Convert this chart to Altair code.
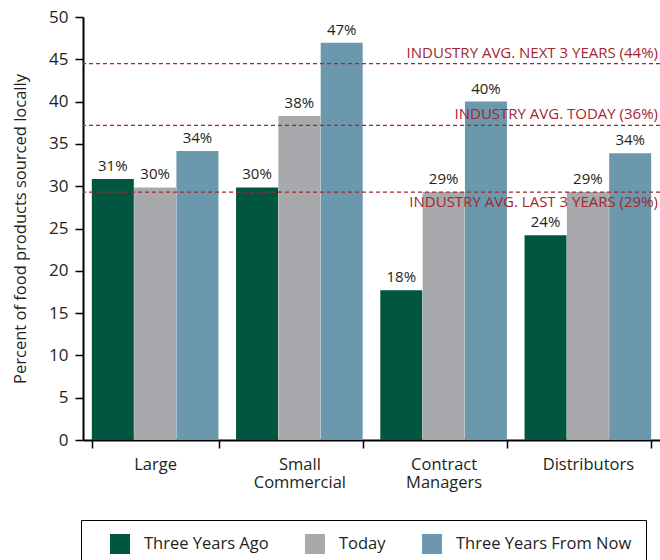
import altair as alt
import pandas as pd

categories = ["Large", "Small Commercial", "Contract Managers", "Distributors"]
series = ["Three Years Ago", "Today", "Three Years From Now"]
colors = ["#00563F", "#A7A9AC", "#6C98AD"]

three_years_ago = [30.85, 29.85, 17.7, 24.2]
today = [29.85, 38.3, 29.3, 29.3]
three_years_from_now = [34.15, 46.95, 40.0, 33.9]

label_ago = ["31%", "30%", "18%", "24%"]
label_today = ["30%", "38%", "29%", "29%"]
label_future = ["34%", "47%", "40%", "34%"]

ref_values = [44.5, 37.2, 29.3]
ref_labels = [
    "INDUSTRY AVG. NEXT 3 YEARS (44%)",
    "INDUSTRY AVG. TODAY (36%)",
    "INDUSTRY AVG. LAST 3 YEARS (29%)",
]

rows = []
for vals, labs, s in [
    (three_years_ago, label_ago, series[0]),
    (today, label_today, series[1]),
    (three_years_from_now, label_future, series[2]),
]:
    for c, v, l in zip(categories, vals, labs):
        rows.append({"category": c, "series": s, "value": v, "label": l})
df = pd.DataFrame(rows)
ref_df = pd.DataFrame({"value": ref_values, "label": ref_labels})

FONT = "Open Sans"
RED = "#A4262E"

x_enc = alt.X(
    "category:N",
    sort=categories,
    title=None,
    scale=alt.Scale(paddingInner=0.12, paddingOuter=0.06),
    axis=alt.Axis(
        labelAngle=0,
        labelExpr="split(datum.label, ' ')",
        labelFontSize=16.5,
        labelLineHeight=18,
        labelColor="#231F20",
        labelPadding=8,
        tickBand="extent",
        tickSize=8,
        tickWidth=1.5,
        tickColor="#000000",
        domainColor="#000000",
        domainWidth=2,
    ),
)
xoff = alt.XOffset("series:N", sort=series, scale=alt.Scale(paddingInner=0, paddingOuter=0))
y_enc = alt.Y(
    "value:Q",
    title="Percent of food products sourced locally",
    scale=alt.Scale(domain=[0, 50], nice=False),
    axis=alt.Axis(
        values=list(range(0, 55, 5)),
        grid=False,
        labelFontSize=17,
        labelColor="#231F20",
        labelPadding=7,
        tickSize=8,
        tickWidth=1.5,
        tickColor="#000000",
        domainColor="#000000",
        domainWidth=2,
        titleFontSize=16.5,
        titleFontWeight="normal",
        titleColor="#231F20",
        titlePadding=20,
    ),
)

bars = alt.Chart(df).mark_bar(size=42).encode(
    x=x_enc,
    xOffset=xoff,
    y=y_enc,
    color=alt.Color(
        "series:N",
        sort=series,
        scale=alt.Scale(domain=series, range=colors),
        title=None,
        legend=alt.Legend(
            orient="none",
            legendX=-2,
            legendY=503,
            direction="horizontal",
            symbolType="square",
            symbolSize=400,
            symbolStrokeWidth=0,
            symbolOpacity=1,
            symbolOffset=15,
            labelFontSize=16.5,
            labelLimit=400,
            labelColor="#231F20",
            labelOffset=14,
            columnPadding=21,
            padding=14,
            strokeColor="#000000",
            fillColor="#FFFFFF",
        ),
    ),
)

bar_text = alt.Chart(df).mark_text(
    baseline="bottom", dy=-5, fontSize=15, color="#231F20", font=FONT
).encode(
    x=alt.X("category:N", sort=categories),
    xOffset=alt.XOffset("series:N", sort=series),
    y="value:Q",
    text="label:N",
)

rules = alt.Chart(ref_df).mark_rule(
    color=RED, strokeDash=[4, 3], strokeWidth=1.3
).encode(y="value:Q")

ref_above = alt.Chart(ref_df).transform_filter(
    alt.FieldOneOfPredicate(field="label", oneOf=ref_labels[:2])
).mark_text(
    align="right", baseline="bottom", dy=-3, fontSize=15, color=RED, font=FONT
).encode(y="value:Q", x=alt.value(575), text="label:N")

ref_below = alt.Chart(ref_df).transform_filter(
    alt.FieldOneOfPredicate(field="label", oneOf=ref_labels[2:])
).mark_text(
    align="right", baseline="top", dy=3, fontSize=15, color=RED, font=FONT
).encode(y="value:Q", x=alt.value(575), text="label:N")

chart = (
    alt.layer(bars, bar_text, rules, ref_above, ref_below)
    .properties(
        width=577,
        height=423,
        autosize=alt.AutoSizeParams(type="none"),
        padding={"left": 83, "top": 17, "right": 0, "bottom": 120},
    )
    .configure(font=FONT)
    .configure_view(stroke=None)
)

chart.save("out.html", embed_options={"renderer": "svg", "actions": False})
